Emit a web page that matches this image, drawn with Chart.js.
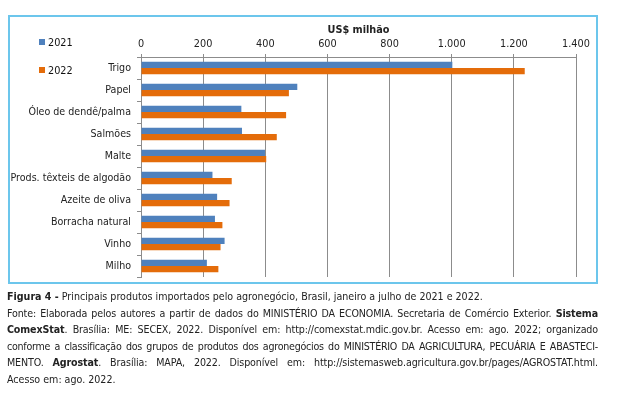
<!DOCTYPE html>
<html><head><meta charset="utf-8">
<script src="https://cdn.jsdelivr.net/npm/chart.js@4.4.1/dist/chart.umd.min.js"></script>
<style>
html,body{margin:0;padding:0;background:#fff;width:619px;height:394px;overflow:hidden;}
body{position:relative;font-family:"DejaVu Sans Condensed","DejaVu Sans",sans-serif;color:#222;}
#box{position:absolute;left:8px;top:15px;width:586px;height:265px;border:2px solid #6cc6ec;}
#wrap{position:absolute;left:0;top:0;width:619px;height:290px;}
#legend{position:absolute;left:39px;top:36px;font-size:10.8px;color:#111;}
#legend div{position:absolute;left:0;white-space:nowrap;}
#legend span.sw{display:inline-block;width:6px;height:6px;margin-right:3px;vertical-align:1px;}
#caption{position:absolute;left:7px;top:288px;width:591px;font-size:10.6px;line-height:16.5px;color:#222;}
#caption div{white-space:nowrap;text-align:justify;text-align-last:justify;letter-spacing:-0.12px;}
#caption div.t{letter-spacing:-0.25px;}
#caption div.l{text-align:left;text-align-last:left;letter-spacing:0;}
</style></head>
<body>
<div id="box"></div>
<div id="wrap"><canvas id="c" width="619" height="290"></canvas></div>
<div id="legend"></div>
<div id="caption">
<div class="l"><b>Figura 4 -</b> Principais produtos importados pelo agronegócio, Brasil, janeiro a julho de 2021 e 2022.</div>
<div>Fonte: Elaborada pelos autores a partir de dados do MINISTÉRIO DA ECONOMIA. Secretaria de Comércio Exterior. <b>Sistema</b></div>
<div><b>ComexStat</b>. Brasília: ME: SECEX, 2022. Disponível em: http://comexstat.mdic.gov.br. Acesso em: ago. 2022; organizado</div>
<div class="t">conforme a classificação dos grupos de produtos dos agronegócios do MINISTÉRIO DA AGRICULTURA, PECUÁRIA E ABASTECI-</div>
<div>MENTO. <b>Agrostat</b>. Brasília: MAPA, 2022. Disponível em: http://sistemasweb.agricultura.gov.br/pages/AGROSTAT.html.</div>
<div class="l">Acesso em: ago. 2022.</div>
</div>
<script>
const categories = ["Trigo","Papel","Óleo de dendê/palma","Salmões","Malte","Prods. têxteis de algodão","Azeite de oliva","Borracha natural","Vinho","Milho"];
const values2021 = [1002,503,323,325,399,230,245,238,269,212];
const values2022 = [1235,476,467,437,403,292,285,262,256,249];
const seriesNames = ["2021","2022"];
const axisTitle = "US$ milhão";
const xMin = 0, xMax = 1400, xStep = 200;

const colors = ["#4f81bd","#e46c0a"];
const FONT = '"DejaVu Sans Condensed","DejaVu Sans",sans-serif';

const lg = document.getElementById('legend');
seriesNames.forEach((n,i)=>{
  const d=document.createElement('div');
  d.style.top=(i*28)+'px';
  d.innerHTML='<span class="sw" style="background:'+colors[i]+'"></span>'+n;
  lg.appendChild(d);
});

function fmt(v){ return v.toLocaleString('de-DE'); }

new Chart(document.getElementById('c'),{
  type:'bar',
  data:{labels:categories,datasets:[
    {label:seriesNames[0],data:values2021,backgroundColor:colors[0],categoryPercentage:0.56,barPercentage:1},
    {label:seriesNames[1],data:values2022,backgroundColor:colors[1],categoryPercentage:0.56,barPercentage:1}
  ]},
  options:{
    indexAxis:'y',responsive:false,animation:false,
    layout:{padding:{left:0,right:43,top:0,bottom:13}},
    plugins:{legend:{display:false},tooltip:{enabled:false}},
    scales:{
      x:{position:'top',min:xMin,max:xMax,
        ticks:{stepSize:xStep,callback:v=>fmt(v),font:{family:FONT,size:10.8},color:'#222',padding:3,maxRotation:0},
        grid:{color:'#8c8c8c',lineWidth:1,tickLength:3,drawTicks:true},
        border:{display:true,color:'#8c8c8c'},
        title:{display:true,text:axisTitle,font:{family:FONT,size:10.8,weight:'bold'},color:'#222',padding:{top:24,bottom:0}},
        afterFit:s=>{s.height=57;}
      },
      y:{
        ticks:{font:{family:FONT,size:10.6},color:'#222',padding:6},
        grid:{offset:true,drawOnChartArea:false,tickLength:4,color:'#8c8c8c'},
        border:{display:true,color:'#8c8c8c'},
        afterFit:s=>{s.width=141;}
      }
    }
  }
});
</script>
</body></html>
